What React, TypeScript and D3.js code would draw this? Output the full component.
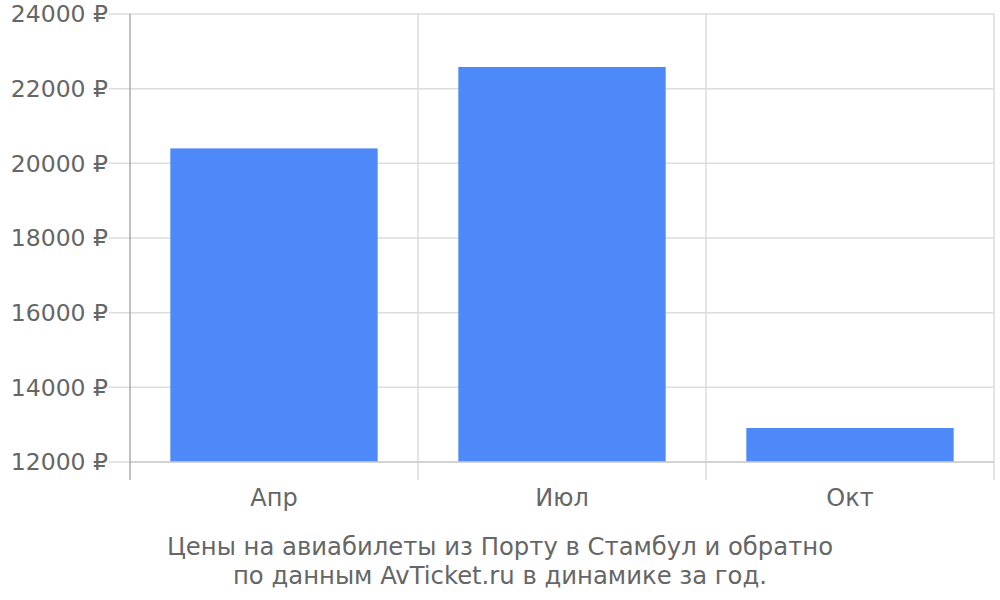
import React from "react";
import * as d3 from "d3";

const categories = ["Апр", "Июл", "Окт"];
const prices = [20400, 22580, 12910];
const yTicks = [12000, 14000, 16000, 18000, 20000, 22000, 24000];
const captionLines = [
  "Цены на авиабилеты из Порту в Стамбул и обратно",
  "по данным AvTicket.ru в динамике за год.",
];

export default function App() {
  const W = 1000, H = 600;
  const left = 130, right = 994, top = 14, bottom = 462;
  const x = d3.scaleBand<string>().domain(categories).range([left, right]).paddingInner(0.28).paddingOuter(0.14);
  const xb = d3.scaleBand<string>().domain(categories).range([left, right]).padding(0);
  const y = d3.scaleLinear().domain([12000, 24000]).range([bottom, top]);
  const font = "'DejaVu Sans', sans-serif";
  const txt = "#666666";
  const edges = [left, ...categories.map((c) => (xb(c) as number) + xb.bandwidth())];
  return (
    <svg width={W} height={H} style={{ position: "absolute", left: 0, top: 0 }} fontFamily={font}>
      <rect width={W} height={H} fill="#fff" />
      {yTicks.map((t) => (
        <g key={t}>
          <line x1={109} x2={right} y1={y(t)} y2={y(t)} stroke="#dddddd" strokeWidth={1.5} />
          <text x={108} y={y(t)} dy="0.35em" textAnchor="end" fontSize={23.5} fill={txt}>
            {t} ₽
          </text>
        </g>
      ))}
      {edges.slice(1).map((e, i) => (
        <line key={i} x1={e} x2={e} y1={top} y2={480} stroke="#dddddd" strokeWidth={1.5} />
      ))}
      {categories.map((c, i) => (
        <rect key={c} x={x(c)} width={x.bandwidth()} y={y(prices[i])} height={bottom - y(prices[i])} fill="#4d89f9" />
      ))}
      <line x1={left} x2={right} y1={bottom} y2={bottom} stroke="#cccccc" strokeWidth={1.5} />
      <line x1={left} x2={left} y1={top} y2={480} stroke="#aaaaaa" strokeWidth={1.5} />
      {categories.map((c) => (
        <text key={c} x={(xb(c) as number) + xb.bandwidth() / 2} y={506} textAnchor="middle" fontSize={24} fill={txt}>
          {c}
        </text>
      ))}
      {captionLines.map((l, i) => (
        <text key={i} x={500} y={555 + i * 29} textAnchor="middle" fontSize={24.3} fill={txt}>
          {l}
        </text>
      ))}
    </svg>
  );
}
